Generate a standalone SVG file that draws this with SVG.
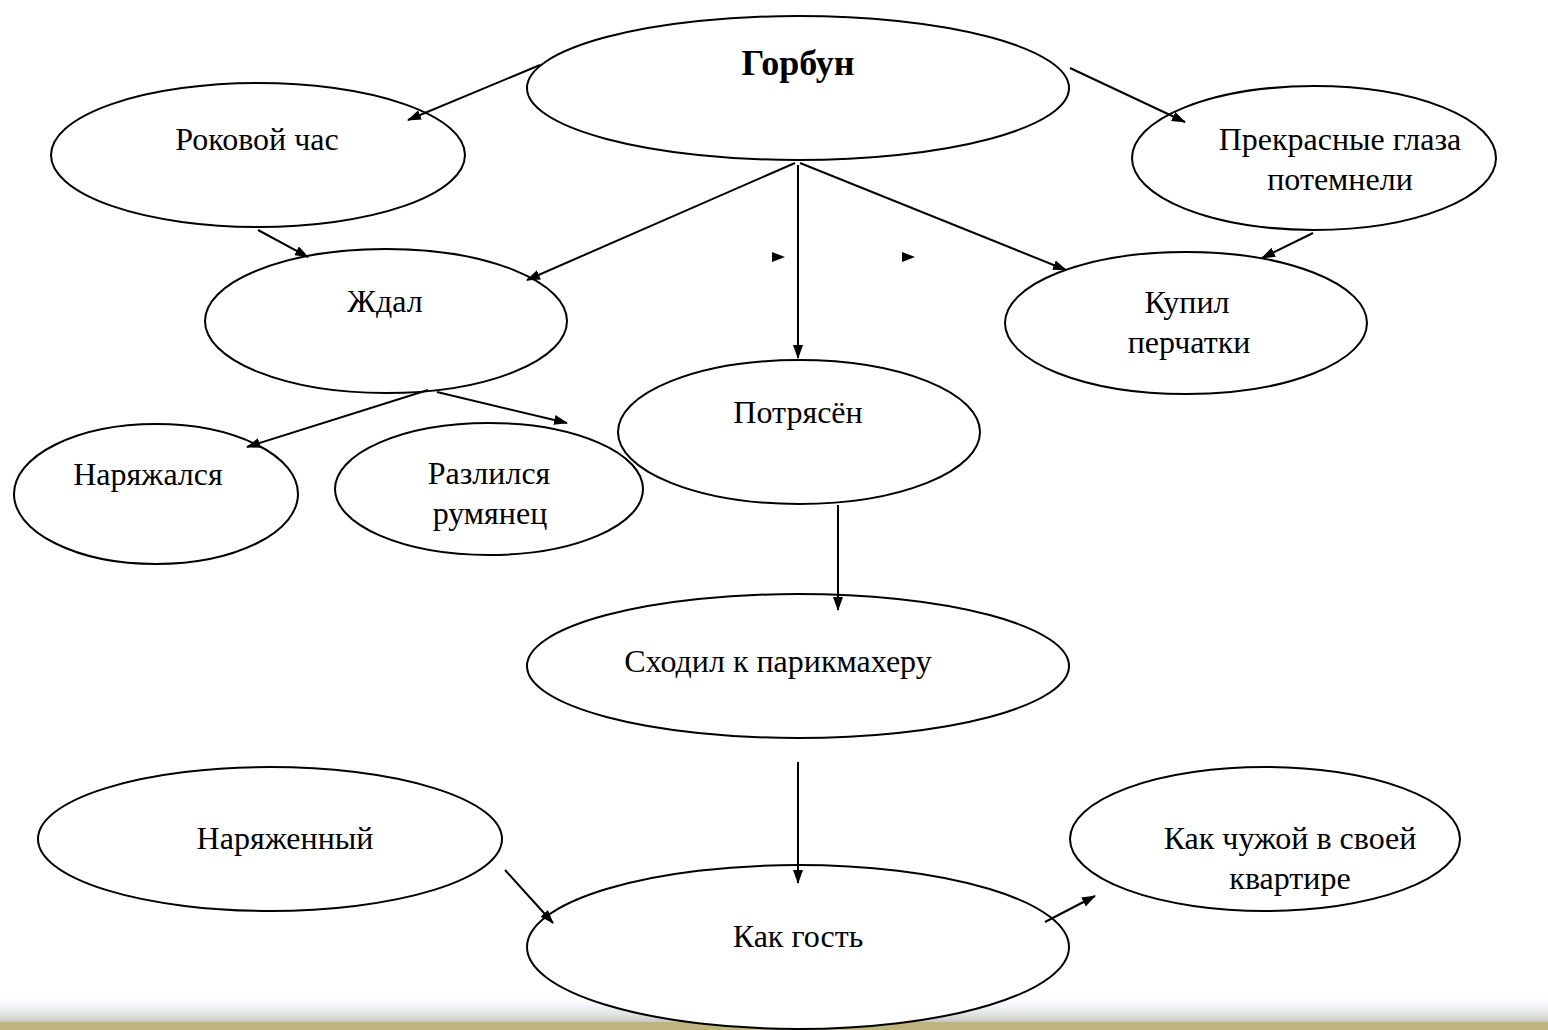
<svg xmlns="http://www.w3.org/2000/svg" width="1548" height="1030" viewBox="0 0 1548 1030">
<style>
.n ellipse{fill:#fff;stroke:#000;stroke-width:2}
.t{font-family:"Liberation Serif","Times New Roman",serif;font-size:32px;fill:#000;text-anchor:middle}
.b{font-weight:bold;font-size:36px}
.c line{stroke:#000;stroke-width:2;marker-end:url(#ah)}
</style>
<defs>
<marker id="ah" viewBox="0 0 14 10" refX="13" refY="5" markerWidth="14" markerHeight="10" markerUnits="userSpaceOnUse" orient="auto">
<path d="M0,0 L14,5 L0,10 z" fill="#000"/>
</marker>
<linearGradient id="bar" x1="0" y1="0" x2="0" y2="1">
<stop offset="0" stop-color="#fff"/>
<stop offset="0.35" stop-color="#f3f2fa"/>
<stop offset="0.7" stop-color="#e0e2dc"/>
<stop offset="1" stop-color="#c8c6c4"/>
</linearGradient>
</defs>
<rect width="1548" height="1030" fill="#fff"/>
<rect x="0" y="998" width="1548" height="24" fill="url(#bar)"/>
<rect x="0" y="1022" width="1548" height="8" fill="#bdb47e"/>
<g id="n-gorbun" class="n"><ellipse cx="798" cy="88" rx="271" ry="72"/><text class="t b" x="798" y="75">Горбун</text></g>
<g id="n-rokovoy" class="n"><ellipse cx="258" cy="155" rx="207" ry="72"/><text class="t" x="257" y="150">Роковой час</text></g>
<g id="n-glaza" class="n"><ellipse cx="1314" cy="158" rx="182" ry="72"/><text class="t" x="1340" y="150">Прекрасные глаза</text><text class="t" x="1340" y="190">потемнели</text></g>
<g id="n-zhdal" class="n"><ellipse cx="386" cy="321" rx="181" ry="72"/><text class="t" x="385" y="312">Ждал</text></g>
<g id="n-kupil" class="n"><ellipse cx="1186" cy="323" rx="181" ry="71"/><text class="t" x="1187" y="313">Купил</text><text class="t" x="1189" y="353">перчатки</text></g>
<g id="n-naryazhalsya" class="n"><ellipse cx="156" cy="494" rx="142" ry="70"/><text class="t" x="148" y="485">Наряжался</text></g>
<g id="n-rumyanets" class="n"><ellipse cx="489" cy="489" rx="154" ry="66"/><text class="t" x="489" y="484">Разлился</text><text class="t" x="490" y="524">румянец</text></g>
<g id="n-potryasen" class="n"><ellipse cx="799" cy="432" rx="181" ry="72"/><text class="t" x="798" y="423">Потрясён</text></g>
<g id="n-parikmakher" class="n"><ellipse cx="798" cy="666" rx="271" ry="72"/><text class="t" x="778" y="672">Сходил к парикмахеру</text></g>
<g id="n-naryazhenny" class="n"><ellipse cx="270" cy="839" rx="232" ry="72"/><text class="t" x="285" y="849">Наряженный</text></g>
<g id="n-chuzhoy" class="n"><ellipse cx="1265" cy="839" rx="195" ry="72"/><text class="t" x="1290" y="849">Как чужой в своей</text><text class="t" x="1290" y="889">квартире</text></g>
<g id="n-gost" class="n"><ellipse cx="798" cy="947" rx="271" ry="82"/><text class="t" x="798" y="947">Как гость</text></g>
<g id="connectors" class="c">
<line x1="540" y1="65" x2="408" y2="120"/>
<line x1="1070" y1="68" x2="1185" y2="122"/>
<line x1="258" y1="230" x2="308" y2="257"/>
<line x1="1313" y1="233" x2="1262" y2="258"/>
<line x1="795" y1="163" x2="527" y2="280"/>
<line x1="798" y1="165" x2="798" y2="358"/>
<line x1="800" y1="163" x2="1066" y2="270"/>
<line x1="428" y1="390" x2="247" y2="447"/>
<line x1="437" y1="392" x2="567" y2="423"/>
<line x1="838" y1="505" x2="838" y2="610"/>
<line x1="798" y1="762" x2="798" y2="883"/>
<line x1="505" y1="870" x2="553" y2="923"/>
<line x1="1045" y1="922" x2="1095" y2="896"/>
<path d="M772,252 L785,257 L772,262 z" fill="#000" stroke="none"/>
<path d="M902,252 L915,257 L902,262 z" fill="#000" stroke="none"/>
</g>
</svg>
